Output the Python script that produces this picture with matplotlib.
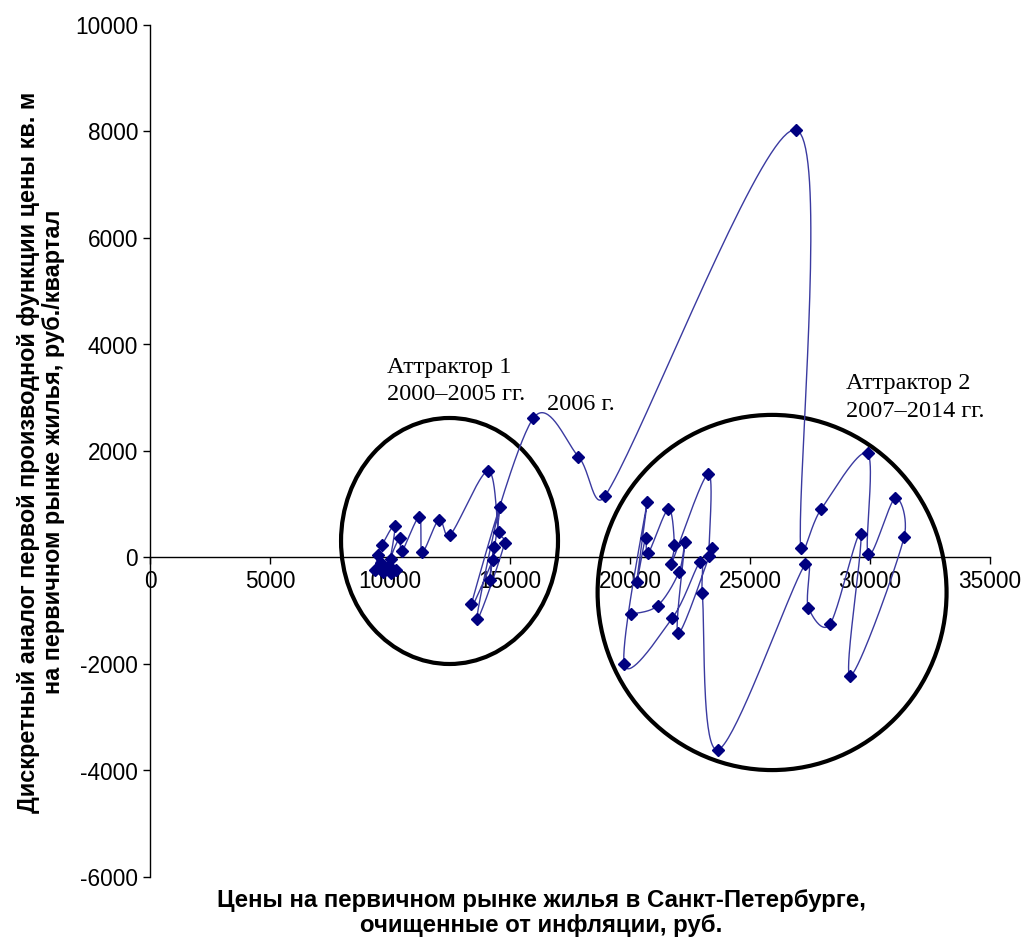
import numpy as np
import matplotlib
matplotlib.use("Agg")
import matplotlib.pyplot as plt
from matplotlib.patches import Ellipse

# Phase trajectory: price (x) vs discrete derivative (y), quarterly 2000-2014
price = [9640, 9390, 9500, 9670, 10200, 9940, 9710, 10050, 10260, 10030,
         10400, 10500, 11220, 11350, 12040, 12500, 14080, 14530, 14780, 13620,
         14570, 14150, 14320, 14280, 13390,
         15970, 17850, 18960,
         26920, 27110, 27960, 29900, 29930, 31040, 31420, 29170, 29610, 28330,
         27430, 27290, 23670, 23010, 22920, 21760, 19760, 20720, 20280, 20650,
         20760, 21600, 21850, 21710, 23260, 23290, 23430, 22010, 22290, 22050,
         21150, 20040]
deriv = [-110, -235, 45, 235, 600, -160, -265, -300, -235, -35,
         360, 120, 760, 110, 710, 420, 1625, 470, 280, -1160,
         940, -420, 205, -45, -875,
         2615, 1895, 1155,
         8030, 170, 905, 1955, 60, 1110, 380, -2225, 440, -1255,
         -940, -130, -3610, -670, -90, -1140, -2005, 1050, -455, 370,
         80, 910, 235, -130, 1570, 35, 185, -1425, 300, -265,
         -905, -1065]

x_ticks = [0, 5000, 10000, 15000, 20000, 25000, 30000, 35000]
y_ticks = [-6000, -4000, -2000, 0, 2000, 4000, 6000, 8000, 10000]

ylabel = "Дискретный аналог первой производной функции цены кв. м\nна первичном рынке жилья, руб./квартал"
xlabel = "Цены на первичном рынке жилья в Санкт-Петербурге,\nочищенные от инфляции, руб."

W, H = 1023, 938
fig = plt.figure(figsize=(W / 100, H / 100), dpi=100)
L, R, T, B = 150, 990, 25, 877
ax = fig.add_axes([L / W, 1 - B / H, (R - L) / W, (B - T) / H])
ax.set_xlim(0, 35000)
ax.set_ylim(-6000, 10000)

# smoothed line: Catmull-Rom Bezier in display-proportional space,
# handle length capped relative to the chord to limit overshoot
sx = (R - L) / 35000
sy = (B - T) / 16000
P = np.column_stack([np.array(price, float) * sx, np.array(deriv, float) * sy])
n = len(P)


def handle(i, chord):
    a = P[i - 1] if i > 0 else P[i]
    b = P[i + 1] if i + 1 < n else P[i]
    h = (b - a) / 6
    ln = np.hypot(*h)
    cap = 0.45 * chord
    if ln > cap and ln > 0:
        h = h * cap / ln
    return h


segs = []
t = np.linspace(0, 1, 40)[:, None]
for i in range(n - 1):
    p1, p2 = P[i], P[i + 1]
    chord = np.hypot(*(p2 - p1))
    c1 = p1 + handle(i, chord)
    c2 = p2 - handle(i + 1, chord)
    seg = (1 - t) ** 3 * p1 + 3 * (1 - t) ** 2 * t * c1 + 3 * (1 - t) * t ** 2 * c2 + t ** 3 * p2
    segs.append(seg if i == 0 else seg[1:])
curve = np.vstack(segs)
ax.plot(curve[:, 0] / sx, curve[:, 1] / sy, color="#3a3aa0", lw=1.0, zorder=3)
ax.plot(price, deriv, linestyle="none", marker="D", markersize=6.3,
        color="#000080", zorder=4)

# attractor ellipses
ax.add_patch(Ellipse((12480, 310), 9040, 4620, fill=False, ec="black", lw=3, zorder=2))
ax.add_patch(Ellipse((25920, -657), 14540, 6670, fill=False, ec="black", lw=3, zorder=2))

serif = "Liberation Serif"
fs = 17.5
ax.text(9860, 3560, "Аттрактор 1", family=serif, fontsize=fs, va="center", ha="left")
ax.text(9860, 3060, "2000–2005 гг.", family=serif, fontsize=fs, va="center", ha="left")
ax.text(16560, 2880, "2006 г.", family=serif, fontsize=fs, va="center", ha="left")
ax.text(29020, 3270, "Аттрактор 2", family=serif, fontsize=fs, va="center", ha="left")
ax.text(29020, 2750, "2007–2014 гг.", family=serif, fontsize=fs, va="center", ha="left")

# axes styling
for s in ["top", "right"]:
    ax.spines[s].set_visible(False)
ax.spines["bottom"].set_position(("data", 0))
ax.spines["bottom"].set_linewidth(1.0)
ax.spines["left"].set_linewidth(1.0)
ax.set_xticks(x_ticks)
ax.set_yticks(y_ticks)
ax.set_xticklabels([str(v) for v in x_ticks])
ax.set_yticklabels([str(v) for v in y_ticks])
ax.tick_params(axis="both", direction="out", length=5, width=1,
               labelsize=16.3, labelcolor="black")
ax.tick_params(axis="x", pad=4)
for lab in ax.get_xticklabels() + ax.get_yticklabels():
    lab.set_family("Liberation Sans")

fig.text(41 / W, 1 - 452 / H, ylabel, rotation=90, ha="center", va="center",
         family="Liberation Sans", fontweight="bold", fontsize=16.9, linespacing=1.15)
fig.text(541 / W, 1 - 913 / H, xlabel, ha="center", va="center",
         family="Liberation Sans", fontweight="bold", fontsize=17.3, linespacing=1.12)

fig.savefig("out.png", dpi=100)
